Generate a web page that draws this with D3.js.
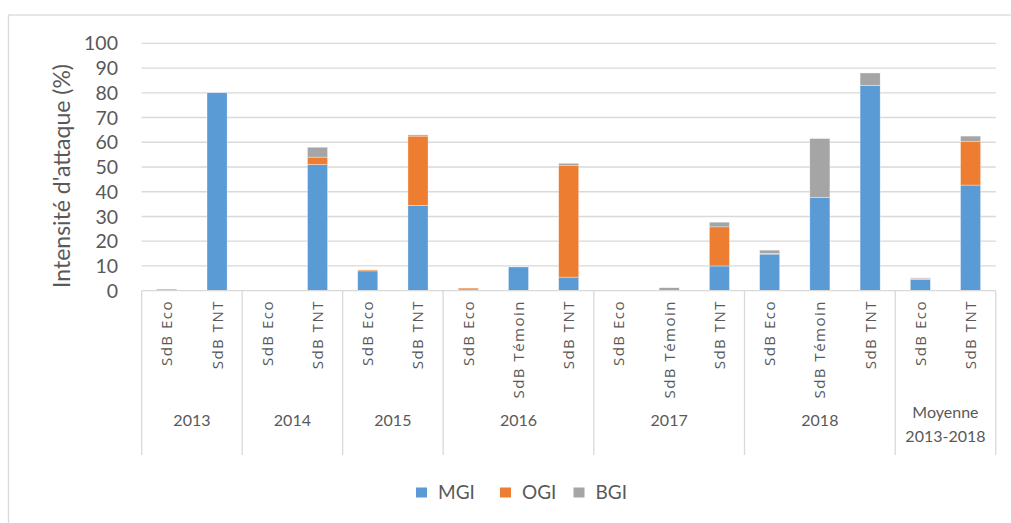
<!DOCTYPE html>
<html>
<head>
<meta charset="utf-8">
<script src="https://cdn.jsdelivr.net/npm/d3@7"></script>
<style>
	body { margin: 0; background: #fff; }
	text { font-family: Lato, "Open Sans", sans-serif; fill: #595959; }
	text.cat { font-family: "Open Sans", sans-serif; letter-spacing: 1.5px; }
</style>
</head>
<body>
<div id="chart"></div>
<script>
// categories of the lower axis level and the group (year) each one belongs to
const categories = ["SdB Eco", "SdB TNT", "SdB Eco", "SdB TNT", "SdB Eco", "SdB TNT",
	"SdB Eco", "SdB Témoin", "SdB TNT", "SdB Eco", "SdB Témoin", "SdB TNT",
	"SdB Eco", "SdB Témoin", "SdB TNT", "SdB Eco", "SdB TNT"];
const categoryGroup = [0, 0, 1, 1, 2, 2, 3, 3, 3, 4, 4, 4, 5, 5, 5, 6, 6];
const groups = [["2013"], ["2014"], ["2015"], ["2016"], ["2017"], ["2018"], ["Moyenne", "2013-2018"]];

const seriesNames = ["MGI", "OGI", "BGI"];
const MGI = [0.6, 80, 0, 51, 8, 34.5, 0.7, 9.6, 5.5, 0, 0, 10, 14.8, 37.7, 83, 4.6, 42.7];
const OGI = [0, 0, 0, 3, 0.4, 28, 0.4, 0, 45, 0, 0, 15.8, 0.3, 0, 0, 0.3, 17.5];
const BGI = [0, 0, 0, 4, 0, 0.5, 0, 0, 1, 0, 1.2, 1.9, 1.3, 23.8, 5, 0.3, 2.3];
const yTicks = [0, 10, 20, 30, 40, 50, 60, 70, 80, 90, 100];

const colors = { MGI: '#5b9bd5', OGI: '#ed7d31', BGI: '#a5a5a5' };
const W = 1011, H = 523;
const plotLeft = 141.7, plotRight = 995.7, plotTop = 43.3, plotBottom = 290.7;

let svg = d3.select('#chart').append('svg').attr('width', W).attr('height', H);

// chart border (only left/top visible in the crop)
svg.append('rect').attr('x', 8.5).attr('y', 15).attr('width', 1020).attr('height', 540)
	.attr('fill', 'none').attr('stroke', '#d9d9d9').attr('stroke-width', 1.3);

let ids = categories.map((d, i) => i);
let x = d3.scaleBand().domain(ids).range([plotLeft, plotRight]).paddingInner(0.6).paddingOuter(0.3);
let y = d3.scaleLinear().domain([0, 100]).range([plotBottom, plotTop]);

// gridlines
svg.append('g').selectAll('line').data(yTicks.slice(1)).enter().append('line')
	.attr('x1', plotLeft).attr('x2', plotRight)
	.attr('y1', d => y(d)).attr('y2', d => y(d))
	.attr('stroke', '#d9d9d9').attr('stroke-width', 1.3);

// y tick labels
svg.append('g').selectAll('text').data(yTicks).enter().append('text')
	.attr('x', 118).attr('y', d => y(d)).attr('dy', '0.36em')
	.attr('text-anchor', 'end').style('font-size', '19.5px')
	.text(d => d);

// y title
svg.append('text')
	.attr('transform', 'translate(70,176) rotate(-90)')
	.attr('text-anchor', 'middle').style('font-size', '23px')
	.text("Intensité d'attaque (%)");

// stacked bars
let table = ids.map(i => ({ i: i, MGI: MGI[i], OGI: OGI[i], BGI: BGI[i] }));
let stack = d3.stack().keys(seriesNames)(table);
svg.append('g').selectAll('g').data(stack).enter().append('g')
	.attr('fill', d => colors[d.key])
	.selectAll('rect').data(d => d).enter().append('rect')
	.attr('x', d => x(d.data.i))
	.attr('width', x.bandwidth())
	.attr('y', d => y(d[1]))
	.attr('height', d => Math.max(0, y(d[0]) - y(d[1])))
	.attr('stroke', '#fff').attr('stroke-width', 0.5).attr('stroke-opacity', 0.7);

// category axis line
svg.append('line').attr('x1', plotLeft).attr('x2', plotRight).attr('y1', plotBottom).attr('y2', plotBottom)
	.attr('stroke', '#d9d9d9').attr('stroke-width', 1.3);

// group separators
let step = x.step();
let bounds = [0];
groups.forEach((g, gi) => {
	bounds.push(categoryGroup.filter(c => c === gi).length + bounds[bounds.length - 1]);
});
svg.append('g').selectAll('line').data(bounds).enter().append('line')
	.attr('x1', d => plotLeft + d * step).attr('x2', d => plotLeft + d * step)
	.attr('y1', plotBottom).attr('y2', 455)
	.attr('stroke', '#d9d9d9').attr('stroke-width', 1.3);

// category labels (rotated)
svg.append('g').selectAll('text').data(ids).enter().append('text')
	.classed('cat', true)
	.attr('transform', d => 'translate(' + (x(d) + x.bandwidth() / 2 + 5.5) + ',300) rotate(-90)')
	.attr('text-anchor', 'end').style('font-size', '15px')
	.text(d => categories[d]);

// group labels
let groupText = svg.append('g').selectAll('text').data(groups).enter().append('text')
	.attr('text-anchor', 'middle').style('font-size', '16px')
	.attr('x', (d, gi) => plotLeft + (bounds[gi] + bounds[gi + 1]) / 2 * step)
	.attr('y', d => d.length > 1 ? 418 : 426);
groupText.selectAll('tspan').data(d => d).enter().append('tspan')
	.attr('x', function () { return d3.select(this.parentNode).attr('x'); })
	.attr('dy', (d, i) => i ? 24 : 0)
	.text(d => d);

// legend
let legendX = [416, 500, 573.5];
let legend = svg.append('g').selectAll('g').data(seriesNames).enter().append('g')
	.attr('transform', (d, i) => 'translate(' + legendX[i] + ',0)');
legend.append('rect').attr('x', 0).attr('y', 487.5).attr('width', 11).attr('height', 10)
	.attr('fill', d => colors[d]);
legend.append('text').attr('x', 22).attr('y', 499).style('font-size', '19px')
	.text(d => d);
</script>
</body>
</html>
